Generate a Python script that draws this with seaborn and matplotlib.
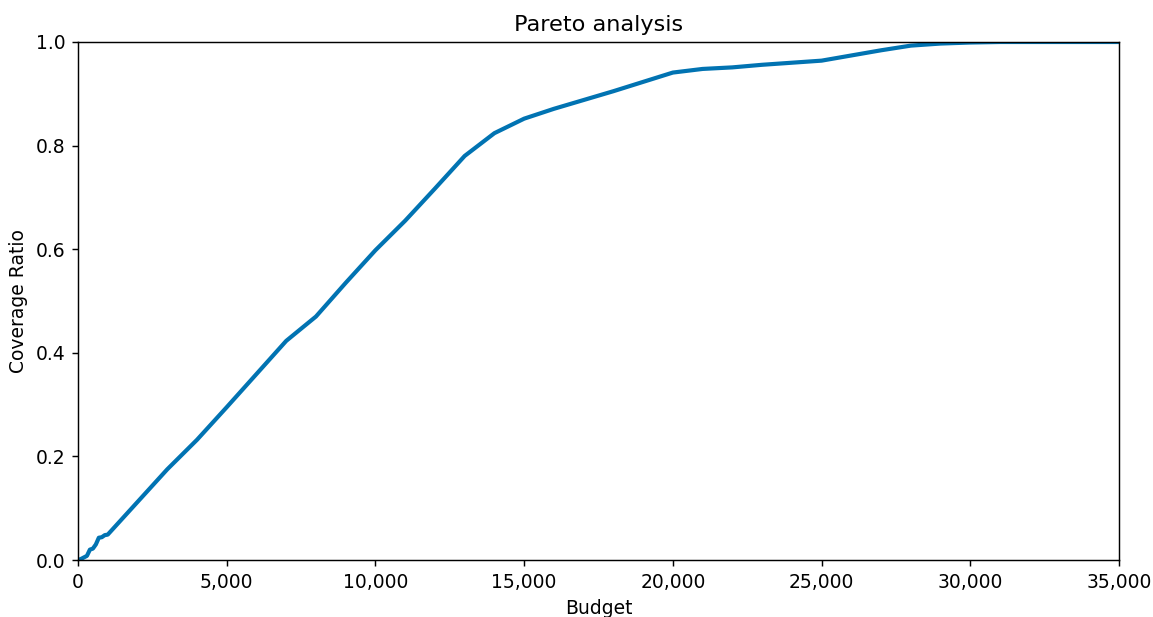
import matplotlib
matplotlib.use("Agg")
import matplotlib.pyplot as plt
import matplotlib.ticker as mticker
import seaborn as sns
import pandas as pd

budget = [0, 100, 200, 300, 400, 500, 600, 700, 800, 900, 1000,
          2000, 3000, 4000, 5000, 6000, 7000, 8000, 9000, 10000,
          11000, 12000, 13000, 14000, 15000, 16000, 17000, 18000, 19000, 20000,
          21000, 22000, 23000, 24000, 25000, 26000, 27000, 28000, 29000, 30000,
          31000, 32000, 33000, 34000, 35000]
coverage = [0.0, 0.002, 0.005, 0.008, 0.020, 0.022, 0.030, 0.043, 0.044, 0.048, 0.049,
            0.112, 0.175, 0.232, 0.295, 0.359, 0.423, 0.470, 0.535, 0.598,
            0.655, 0.717, 0.780, 0.824, 0.852, 0.871, 0.888, 0.905, 0.923, 0.941,
            0.948, 0.951, 0.956, 0.960, 0.964, 0.974, 0.984, 0.993, 0.997, 0.999,
            1.0, 1.0, 1.0, 1.0, 1.0]

df = pd.DataFrame({"Budget": budget, "Coverage Ratio": coverage})

dpi = 130
fig, ax = plt.subplots(figsize=(1153 / dpi, 617 / dpi), dpi=dpi)
fig.subplots_adjust(left=78 / 1153, right=1119 / 1153, top=1 - 42 / 617, bottom=1 - 560 / 617)

sns.lineplot(data=df, x="Budget", y="Coverage Ratio", ax=ax, color="#0173b2", linewidth=2.3)

ax.set_xlim(0, 35000)
ax.set_ylim(0, 1.0)
ax.xaxis.set_major_locator(mticker.MultipleLocator(5000))
ax.xaxis.set_major_formatter(mticker.FuncFormatter(lambda v, p: f"{int(v):,}"))
ax.yaxis.set_major_locator(mticker.MultipleLocator(0.2))
ax.set_title("Pareto analysis", fontsize=12.4)
ax.set_xlabel("Budget", fontsize=10.4)
ax.set_ylabel("Coverage Ratio", fontsize=10.4)
ax.tick_params(labelsize=10.4)

fig.savefig("out.png", dpi=dpi)
